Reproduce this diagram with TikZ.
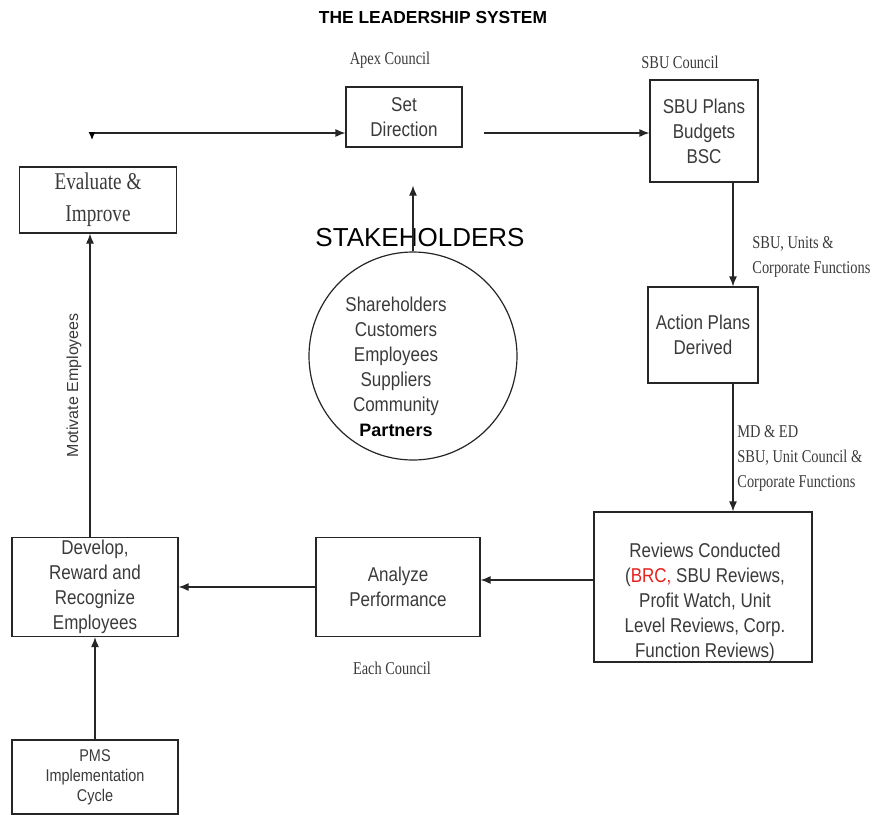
\documentclass[tikz,border=0pt]{standalone}
\usepackage{fontspec}
\setmainfont{Liberation Serif}
\newfontfamily\condsans[FakeStretch=0.85]{Liberation Sans}
\newfontfamily\condserif[FakeStretch=0.8]{Liberation Serif}
\newfontfamily\plainsans{Liberation Sans}
\usetikzlibrary{arrows.meta}
\definecolor{inkGray}{HTML}{3A3A3A}
\definecolor{brcRed}{HTML}{E8201C}
\newcommand{\boxfont}{\condsans\fontsize{10}{12.5}\selectfont}
\newcommand{\notefont}{\condserif\fontsize{9}{12.5}\selectfont}

\begin{document}
\begin{tikzpicture}[x=0.5pt, y=-0.5pt,
      box/.style={draw=black!85, line width=0.6pt, align=center, inner sep=0pt,
                  text=inkGray, font=\boxfont},
      note/.style={align=left, inner sep=0pt, text=inkGray, font=\notefont},
      arr/.style={-{Latex[length=5pt, width=4pt]}, line width=0.6pt, black!85}]
    \useasboundingbox (0,0) rectangle (874,815);
    \node[font=\plainsans\bfseries\fontsize{8.7}{10}\selectfont] (title) at (433,18) {THE LEADERSHIP SYSTEM};
    % top row
    \node[note] (apex) at (390,60) {Apex Council};
    \node[note] (sbucouncil) at (680,62) {SBU Council};
    \node[box, minimum width=58pt, minimum height=30pt] (dir) at (404,117) {Set\\Direction};
    \node[box, minimum width=54pt, minimum height=51pt] (sbu) at (704,131) {SBU Plans\\Budgets\\BSC};
    \node[box, minimum width=78.5pt, minimum height=33pt, font=\condserif\fontsize{12}{16}\selectfont] (eva) at (98,200) {Evaluate \&\\Improve};
    \coordinate (loopend) at (92,133);
    % stakeholders
    \node[font=\plainsans\fontsize{13}{15}\selectfont] (stakelab) at (420,238) {STAKEHOLDERS};
    \node[circle, draw=black!85, line width=0.6pt, minimum size=104pt, inner sep=0pt] (stake) at (413,356) {};
    \node[align=center, inner sep=0pt, text=inkGray, font=\boxfont] (members) at (396,367)
      {Shareholders\\Customers\\Employees\\Suppliers\\Community\\{\plainsans\bfseries\color{black}\fontsize{9}{12.5}\selectfont Partners}};
    % right column
    \node[box, minimum width=55pt, minimum height=48pt] (act) at (703,335) {Action Plans\\Derived};
    \node[note, anchor=north west] (unitlab) at (752,236) {SBU, Units \&\\Corporate Functions};
    \node[note, anchor=north west] (mdlab) at (737,425) {MD \& ED\\SBU, Unit Council \&\\Corporate Functions};
    \node[box, minimum width=109pt, minimum height=75pt] (rev) at (703,587) {};
    \node[align=center, inner sep=0pt, text=inkGray, font=\boxfont] (revtxt) at (705,602)
      {Reviews Conducted\\(\textcolor{brcRed}{BRC,} SBU Reviews,\\Profit Watch, Unit\\Level Reviews, Corp.\\Function Reviews)};
    % bottom row
    \node[box, minimum width=82pt, minimum height=49.5pt] (ana) at (398,587) {Analyze\\Performance};
    \node[note] (each) at (392,668) {Each Council};
    \node[box, minimum width=83pt, minimum height=49.5pt] (dev) at (95,587) {Develop,\\Reward and\\Recognize\\Employees};
    \node[box, minimum width=83pt, minimum height=37pt, font=\condsans\fontsize{8.5}{10}\selectfont] (pms) at (95,777) {PMS\\Implementation\\Cycle};
    % connectors
    \draw[arr] (loopend) -- (dir.west |- loopend);
    \draw[-{Latex[length=4pt, width=3.5pt]}, line width=0.6pt] (loopend) -- ++(0,7);
    \draw[arr, shorten <=10.5pt] ([yshift=-8pt]dir.east) -- ([yshift=-1pt]sbu.west);
    \draw[arr, shorten >=19pt] (stake.north) -- (stake.north |- dir.south);
    \draw[arr] ([xshift=14.5pt]sbu.south) -- ([xshift=15pt]act.north);
    \draw[arr] ([xshift=15pt]act.south) -- ([xshift=15pt]rev.north);
    \draw[arr] ([yshift=3.5pt]rev.west) -- ([yshift=3.5pt]ana.east);
    \draw[arr] (ana.west) -- (dev.east);
    \draw[arr] ([xshift=-2.5pt]dev.north) -- ([xshift=-2.5pt]dev.north |- eva.south)
      node[midway, above, sloped, inner sep=4pt, font=\plainsans\fontsize{8}{10}\selectfont, text=inkGray] {Motivate Employees};
    \draw[arr] (pms.north) -- (dev.south);
  \end{tikzpicture}
\end{document}
